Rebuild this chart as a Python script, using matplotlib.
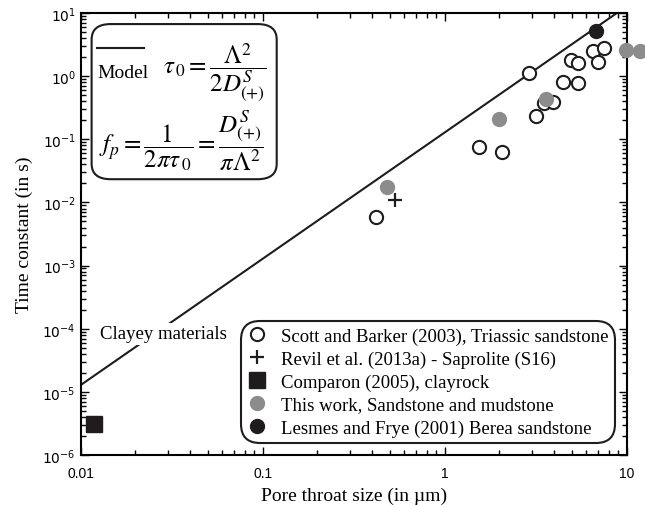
import numpy as np
import matplotlib
matplotlib.use("Agg")
import matplotlib.pyplot as plt
from matplotlib.lines import Line2D
from matplotlib.patches import FancyBboxPatch
from matplotlib.ticker import FuncFormatter, LogLocator

# Pore throat size (um) and time constant (s) for each data set
scott_size = [0.42, 1.54, 2.07, 2.92, 3.18, 3.53, 3.95, 4.49, 5.42, 4.92, 5.42, 6.55, 7.50, 6.98]
scott_tau = [0.0058, 0.076, 0.064, 1.12, 0.23, 0.38, 0.39, 0.80, 0.78, 1.82, 1.62, 2.53, 2.76, 1.69]
revil_size = [0.53]
revil_tau = [0.011]
comparon_size = [0.0119]
comparon_tau = [3.1e-6]
this_size = [0.48, 2.0, 3.6, 9.9, 11.9]
this_tau = [0.0173, 0.21, 0.435, 2.62, 2.5]
lesmes_size = [6.78]
lesmes_tau = [5.25]

x_ticks = [0.01, 0.1, 1, 10]
y_ticks = [1e-6, 1e-5, 1e-4, 1e-3, 1e-2, 1e-1, 1e0, 1e1]

# Model: tau0 = Lambda^2 / (2 D), D in um^2/s
D_plus = 3.9
model_size = np.logspace(-2, 1, 200)
model_tau = model_size ** 2 / (2 * D_plus)

gray = "#8c8c8c"
dark = "#1f1c1d"
serif = "Liberation Serif"
sans = "Liberation Sans"

fig = plt.figure(figsize=(6.45, 5.06), dpi=100)
ax = fig.add_axes([0.1251, 0.0988, 0.8465, 0.8735])

ax.plot(model_size, model_tau, color=dark, lw=1.5, zorder=2)

ax.plot(scott_size, scott_tau, "o", ms=9.5, mfc="white", mec=dark, mew=1.5, zorder=3)
ax.plot(revil_size, revil_tau, "+", ms=10, mec=dark, mew=1.6, zorder=3)
ax.plot(comparon_size, comparon_tau, "s", ms=11, mfc=dark, mec=dark, zorder=3)
ax.plot(this_size, this_tau, "o", ms=10, mfc=gray, mec=gray, zorder=4, clip_on=False)
ax.plot(lesmes_size, lesmes_tau, "o", ms=10, mfc=dark, mec=dark, zorder=4)

ax.set_xscale("log")
ax.set_yscale("log")
ax.set_xticks(x_ticks)
ax.set_yticks(y_ticks)
ax.yaxis.set_minor_locator(LogLocator(base=10, subs=np.arange(2, 10), numticks=20))
ax.set_xlim(0.01, 10)
ax.set_ylim(1e-6, 10)

for s in ax.spines.values():
    s.set_linewidth(1.5)

ax.tick_params(which="both", direction="in", top=True, right=True, width=1.0)
ax.tick_params(which="major", length=6, labelsize=10)
ax.tick_params(which="minor", length=3.5)
ax.tick_params(axis="x", which="major", pad=8)
ax.xaxis.set_major_formatter(FuncFormatter(lambda v, p: f"{v:g}"))
ax.yaxis.set_major_formatter(FuncFormatter(lambda v, p: rf"$10^{{{int(round(np.log10(v)))}}}$"))
for lab in ax.get_xticklabels() + ax.get_yticklabels():
    lab.set_family(sans)

ax.set_xlabel("Pore throat size (in µm)", family=serif, fontsize=14, labelpad=5)
ax.set_ylabel("Time constant (in s)", family=serif, fontsize=14, labelpad=7)

ax.text(0.152, 0.274, "Clayey materials", transform=ax.transAxes, family=serif,
        fontsize=13.5, ha="center", va="center", zorder=5,
        bbox=dict(facecolor="white", edgecolor="none", pad=2))

# Model box with the equations
box = FancyBboxPatch((0.020, 0.624), 0.339, 0.351, transform=ax.transAxes,
                     boxstyle="round,pad=0,rounding_size=0.035", facecolor="white",
                     edgecolor=dark, lw=1.5, zorder=6)
ax.add_patch(box)
ax.plot([0.029, 0.116], [0.921, 0.921], transform=ax.transAxes, color=dark, lw=1.5, zorder=7)
ax.text(0.030, 0.865, "Model", transform=ax.transAxes, family=serif, fontsize=14,
        ha="left", va="center", zorder=7)
eq1 = ax.text(0.245, 0.868, r"$\tau_{\,0} = \dfrac{\Lambda^2}{2D^S_{(+)}}$",
              transform=ax.transAxes, fontsize=18, ha="center", va="center", zorder=7)
eq2 = ax.text(0.185, 0.712,
              r"$f_p = \dfrac{1}{2\pi\tau_{\,0}} = \dfrac{D^S_{(+)}}{\pi\Lambda^2}$",
              transform=ax.transAxes, fontsize=18, ha="center", va="center", zorder=7)
eq1.set_math_fontfamily("stix")
eq2.set_math_fontfamily("stix")

handles = [
    Line2D([], [], ls="none", marker="o", ms=9.5, mfc="white", mec=dark, mew=1.5),
    Line2D([], [], ls="none", marker="+", ms=10, mec=dark, mew=1.6),
    Line2D([], [], ls="none", marker="s", ms=11, mfc=dark, mec=dark),
    Line2D([], [], ls="none", marker="o", ms=10, mfc=gray, mec=gray),
    Line2D([], [], ls="none", marker="o", ms=10, mfc=dark, mec=dark),
]
labels = [
    "Scott and Barker (2003), Triassic sandstone",
    "Revil et al. (2013a) - Saprolite (S16)",
    "Comparon (2005), clayrock",
    "This work, Sandstone and mudstone",
    "Lesmes and Frye (2001) Berea sandstone",
]
leg = ax.legend(handles, labels, loc="lower right", bbox_to_anchor=(0.979, 0.027),
                borderaxespad=0, fancybox=True, framealpha=1, edgecolor=dark,
                prop={"family": serif, "size": 13.5}, handlelength=1.0,
                handletextpad=0.8, labelspacing=0.3, borderpad=0.35)
leg.get_frame().set_linewidth(1.5)
leg.get_frame().set_boxstyle("round", pad=0.0, rounding_size=1.0)
leg.set_zorder(8)

fig.savefig("out.png", dpi=100)
